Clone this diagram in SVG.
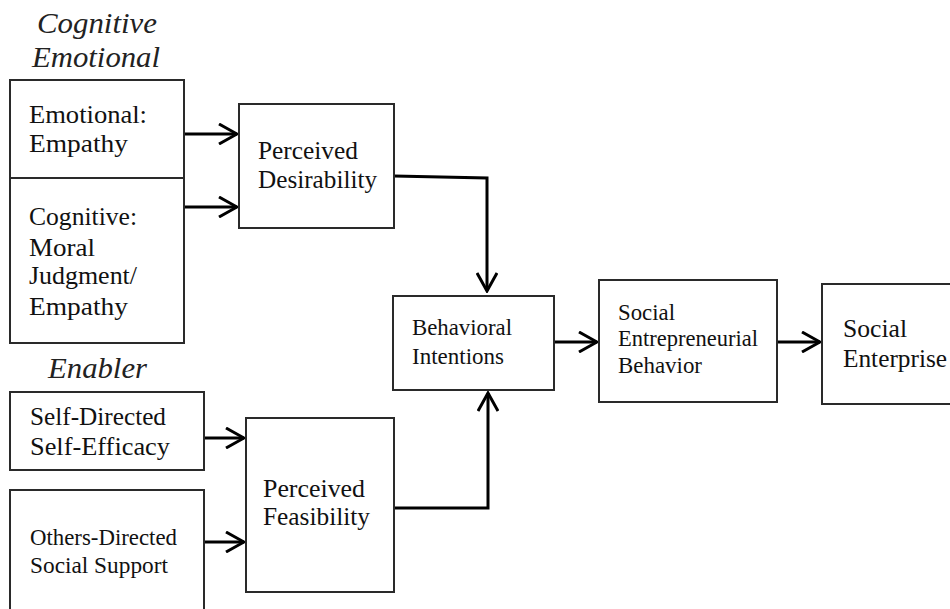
<svg xmlns="http://www.w3.org/2000/svg" width="950" height="609" viewBox="0 0 950 609">
<style>
.box{fill:#fff;stroke:#2a2a2a;stroke-width:2}
.t{font-family:"Liberation Serif","Times New Roman",serif;font-size:25px;fill:#111}
.s{font-size:23px}
.h{font-family:"Liberation Serif","Times New Roman",serif;font-size:30px;font-style:italic;fill:#222}
.c{fill:none;stroke:#000;stroke-width:3}
</style>
<defs>
<marker id="ah" viewBox="0 0 22 22" refX="20" refY="11" markerWidth="22" markerHeight="22" markerUnits="userSpaceOnUse" orient="auto">
<path d="M2,1 L20,11 L2,21" fill="none" stroke="#000" stroke-width="3"/>
</marker>
</defs>
<rect width="950" height="609" fill="#fff"/>
<g id="headings">
<text class="h" x="37" y="33" textLength="120" lengthAdjust="spacingAndGlyphs">Cognitive</text>
<text class="h" x="32" y="67" textLength="128" lengthAdjust="spacingAndGlyphs">Emotional</text>
<text class="h" x="48" y="378" textLength="99" lengthAdjust="spacingAndGlyphs">Enabler</text>
</g>
<g id="connectors">
<line class="c" x1="184" y1="134" x2="237" y2="134" marker-end="url(#ah)"/>
<line class="c" x1="184" y1="207" x2="237" y2="207" marker-end="url(#ah)"/>
<line class="c" x1="204" y1="438" x2="244" y2="438" marker-end="url(#ah)"/>
<line class="c" x1="202" y1="542" x2="244" y2="542" marker-end="url(#ah)"/>
<polyline class="c" points="394,176 487,178 487,291" marker-end="url(#ah)"/>
<polyline class="c" points="394,508 488,508 488,393" marker-end="url(#ah)"/>
<line class="c" x1="554" y1="342" x2="597" y2="342" marker-end="url(#ah)"/>
<line class="c" x1="777" y1="342" x2="820" y2="342" marker-end="url(#ah)"/>
</g>
<g id="emotional">
<rect class="box" x="10" y="80" width="174" height="98"/>
<text class="t" x="29" y="123" textLength="118" lengthAdjust="spacingAndGlyphs">Emotional:</text>
<text class="t" x="29" y="152" textLength="99" lengthAdjust="spacingAndGlyphs">Empathy</text>
</g>
<g id="cognitive">
<rect class="box" x="10" y="178" width="174" height="165"/>
<text class="t" x="29" y="225" textLength="108" lengthAdjust="spacingAndGlyphs">Cognitive:</text>
<text class="t" x="29" y="256" textLength="66" lengthAdjust="spacingAndGlyphs">Moral</text>
<text class="t" x="29" y="284" textLength="108" lengthAdjust="spacingAndGlyphs">Judgment/</text>
<text class="t" x="29" y="315" textLength="99" lengthAdjust="spacingAndGlyphs">Empathy</text>
</g>
<g id="desirability">
<rect class="box" x="239" y="104" width="155" height="124"/>
<text class="t" x="258" y="159" textLength="100" lengthAdjust="spacingAndGlyphs">Perceived</text>
<text class="t" x="258" y="188" textLength="119" lengthAdjust="spacingAndGlyphs">Desirability</text>
</g>
<g id="self-directed">
<rect class="box" x="10" y="392" width="194" height="78"/>
<text class="t" x="30" y="425" textLength="136" lengthAdjust="spacingAndGlyphs">Self-Directed</text>
<text class="t" x="30" y="455" textLength="140" lengthAdjust="spacingAndGlyphs">Self-Efficacy</text>
</g>
<g id="others-directed">
<rect class="box" x="10" y="490" width="194" height="125"/>
<text class="t s" x="30" y="545" textLength="147" lengthAdjust="spacingAndGlyphs">Others-Directed</text>
<text class="t s" x="30" y="573" textLength="138" lengthAdjust="spacingAndGlyphs">Social Support</text>
</g>
<g id="feasibility">
<rect class="box" x="246" y="418" width="148" height="174"/>
<text class="t" x="263" y="497" textLength="102" lengthAdjust="spacingAndGlyphs">Perceived</text>
<text class="t" x="263" y="525" textLength="107" lengthAdjust="spacingAndGlyphs">Feasibility</text>
</g>
<g id="intentions">
<rect class="box" x="393" y="296" width="161" height="94"/>
<text class="t s" x="412" y="335" textLength="100" lengthAdjust="spacingAndGlyphs">Behavioral</text>
<text class="t s" x="412" y="364" textLength="92" lengthAdjust="spacingAndGlyphs">Intentions</text>
</g>
<g id="seb">
<rect class="box" x="599" y="280" width="178" height="122"/>
<text class="t s" x="618" y="320" textLength="57" lengthAdjust="spacingAndGlyphs">Social</text>
<text class="t s" x="618" y="346" textLength="140" lengthAdjust="spacingAndGlyphs">Entrepreneurial</text>
<text class="t s" x="618" y="373" textLength="84" lengthAdjust="spacingAndGlyphs">Behavior</text>
</g>
<g id="enterprise">
<rect class="box" x="822" y="284" width="140" height="120"/>
<text class="t" x="843" y="337" textLength="64" lengthAdjust="spacingAndGlyphs">Social</text>
<text class="t" x="843" y="367" textLength="104" lengthAdjust="spacingAndGlyphs">Enterprise</text>
</g>
</svg>
